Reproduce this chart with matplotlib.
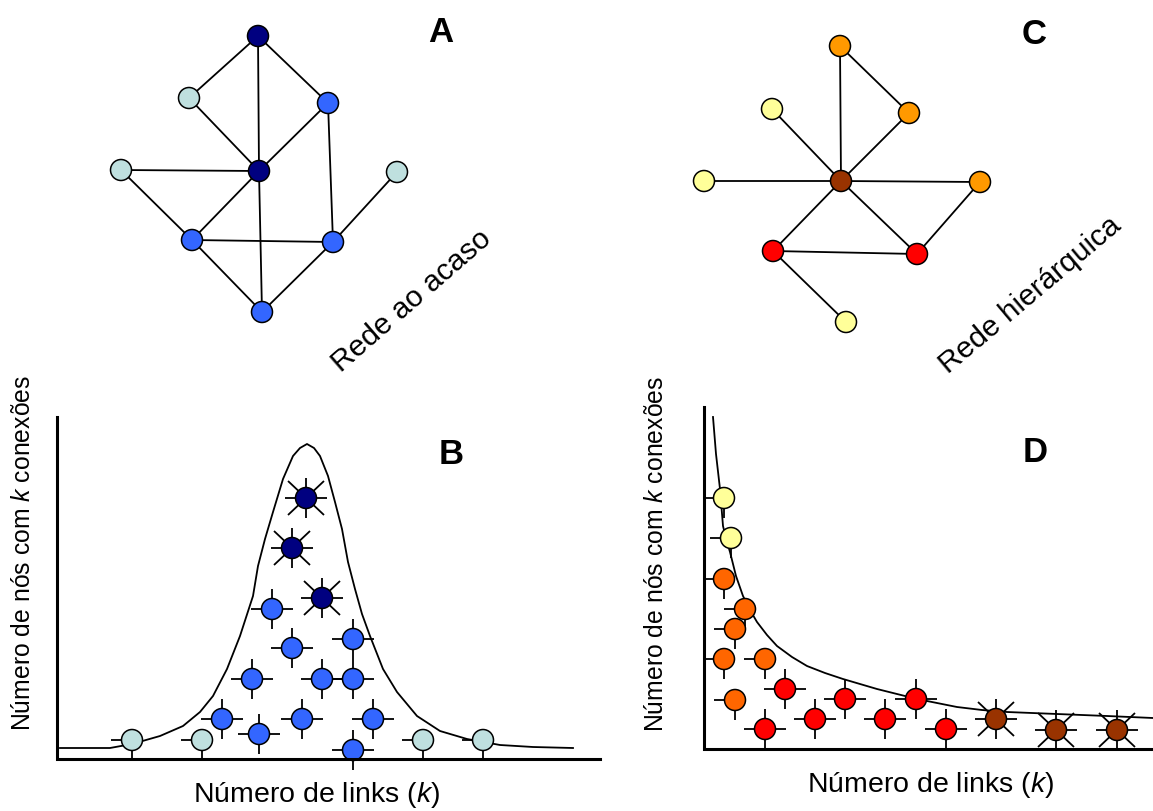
import matplotlib.pyplot as plt
from matplotlib.patches import Circle

plt.rcParams['font.family'] = ['Liberation Sans', 'DejaVu Sans']
plt.rcParams['mathtext.fontset'] = 'custom'
plt.rcParams['mathtext.it'] = 'Liberation Sans:italic'
plt.rcParams['mathtext.rm'] = 'Liberation Sans'

# everything is placed in picture pixels (x right, y down)

# panel A - random network
a_x = [258, 189, 328, 259, 121, 397, 192, 333, 262]
a_y = [37, 99, 104, 172, 171, 173, 241, 243, 313]
a_kind = ['hub', 'low', 'mid', 'hub', 'low', 'low', 'mid', 'mid', 'mid']
a_edges = [(0, 1), (0, 3), (0, 2), (1, 3), (2, 3), (2, 7), (4, 3), (4, 6),
           (3, 6), (3, 8), (6, 7), (5, 7), (6, 8), (7, 8)]

# panel C - hierarchical network
c_x = [840, 772, 909, 704, 841, 980, 773, 917, 846]
c_y = [47, 110, 114, 182, 182, 183, 252, 255, 323]
c_kind = ['orange', 'yellow', 'orange', 'yellow', 'hub', 'orange', 'red', 'red', 'yellow']
c_edges = [(0, 4), (0, 2), (2, 4), (1, 4), (3, 4), (4, 5), (4, 6), (4, 7),
           (6, 7), (7, 5), (6, 8)]

# panel B - bell shaped degree distribution
b_curve_x = [60, 110, 132, 160, 183, 200, 213, 227, 240, 253, 258, 265, 273, 283, 293,
             300, 307, 314, 320, 328, 335, 342, 348, 355, 362, 370, 383, 397, 417,
             440, 467, 500, 533, 573]
b_curve_y = [749, 749, 745, 737, 727, 713, 697, 670, 637, 597, 567, 540, 513, 480, 457,
             449, 445, 449, 457, 477, 503, 530, 563, 590, 615, 637, 670, 693, 717,
             732, 740, 746, 748, 749]
b_x = [132, 202, 222, 259, 252, 272, 306, 292, 322, 292, 322, 353, 353, 302, 373, 353, 423, 483]
b_y = [741, 741, 720, 735, 680, 610, 499, 549, 599, 649, 680, 640, 680, 720, 720, 751, 741, 741]
b_kind = ['low', 'low', 'mid', 'mid', 'mid', 'mid', 'hub', 'hub', 'hub', 'mid', 'mid',
          'mid', 'mid', 'mid', 'mid', 'mid', 'low', 'low']

# panel D - power law degree distribution
d_curve_x = [713, 716, 720, 723, 727, 730, 736, 743, 750, 757, 767, 777, 792, 807, 825,
             843, 860, 877, 897, 917, 937, 957, 982, 1007, 1057, 1107, 1153]
d_curve_y = [418, 455, 490, 527, 543, 553, 577, 597, 611, 623, 636, 647, 658, 667, 674,
             680, 685, 690, 695, 700, 704, 708, 711, 713, 715, 717, 719]
d_x = [724, 731, 724, 745, 735, 724, 765, 735, 785, 765, 815, 845, 885, 916, 946, 996, 1056, 1117]
d_y = [499, 539, 580, 610, 630, 660, 660, 701, 690, 730, 720, 700, 720, 700, 730, 720, 731, 731]
d_kind = ['yellow', 'yellow', 'dorange', 'dorange', 'dorange', 'dorange', 'dorange', 'dorange',
          'red', 'red', 'red', 'red', 'red', 'red', 'red', 'hub', 'hub', 'hub']

colors_blue = {'hub': '#000080', 'mid': '#3366ff', 'low': '#bfe0df'}
colors_warm = {'hub': '#993300', 'red': '#ff0000', 'orange': '#ff9900',
               'dorange': '#ff6600', 'yellow': '#ffff99'}
spokes = {'low': 'ld', 'yellow': 'ld', 'dorange': 'ld', 'mid': '+', 'red': '+', 'hub': '*'}

fig = plt.figure(figsize=(11.53, 8.12), dpi=100)
ax = fig.add_axes([0, 0, 1, 1])
ax.set_xlim(0, 1153)
ax.set_ylim(812, 0)
ax.axis('off')

R = 10.5
LW = 1.3


def node(x, y, color):
    ax.add_patch(Circle((x, y), R, facecolor=color, edgecolor='black', lw=1.1, zorder=4))


def network(xs, ys, kinds, edges, cmap):
    for i, j in edges:
        ax.plot([xs[i], xs[j]], [ys[i], ys[j]], color='black', lw=LW, zorder=2)
    for x, y, k in zip(xs, ys, kinds):
        node(x, y, cmap[k])


def spoke_nodes(xs, ys, kinds, cmap):
    for x, y, k in zip(xs, ys, kinds):
        s = spokes[k]
        if s == 'ld':
            segs = [(-21, 0), (0, 20)]
        else:
            segs = [(-21, 0), (21, 0), (0, -20), (0, 20)]
            if s == '*':
                segs += [(-18, -17), (18, -17), (-18, 17), (18, 17)]
        for dx, dy in segs:
            ax.plot([x, x + dx], [y, y + dy], color='black', lw=LW, zorder=3,
                    solid_capstyle='butt', clip_on=False)
        node(x, y, cmap[k])


network(a_x, a_y, a_kind, a_edges, colors_blue)
network(c_x, c_y, c_kind, c_edges, colors_warm)

# axes of the two distributions
ax.plot([57, 57, 600], [418, 760, 760], color='black', lw=2.2, zorder=5,
        solid_joinstyle='miter')
ax.plot([704, 704, 1153], [408, 750, 750], color='black', lw=2.2, zorder=5,
        solid_joinstyle='miter')

ax.plot(b_curve_x, b_curve_y, color='black', lw=LW, zorder=2)
ax.plot(d_curve_x, d_curve_y, color='black', lw=LW, zorder=2)
spoke_nodes(b_x, b_y, b_kind, colors_blue)
spoke_nodes(d_x, d_y, d_kind, colors_warm)

# letters
for lab, (x, y) in zip(['A', 'B', 'C', 'D'], [(441, 33), (451, 455), (1034, 35), (1035, 453)]):
    ax.text(x, y, lab, fontsize=25, fontweight='bold', ha='center', va='center')

ax.text(412, 301, 'Rede ao acaso', fontsize=21.5, rotation=41, ha='center', va='center')
ax.text(1030, 295, 'Rede hierárquica', fontsize=21.5, rotation=40, ha='center', va='center')

xlab = 'Número de links ($k$)'
ylab = 'Número de nós com $k$ conexões'
ax.text(317, 802, xlab, fontsize=20.5, ha='center', va='baseline')
ax.text(931, 792, xlab, fontsize=20.5, ha='center', va='baseline')
ax.text(23, 553, ylab, fontsize=17.8, rotation=90, ha='center', va='center')
ax.text(656, 554, ylab, fontsize=17.8, rotation=90, ha='center', va='center')

fig.savefig('out.png', dpi=100)
